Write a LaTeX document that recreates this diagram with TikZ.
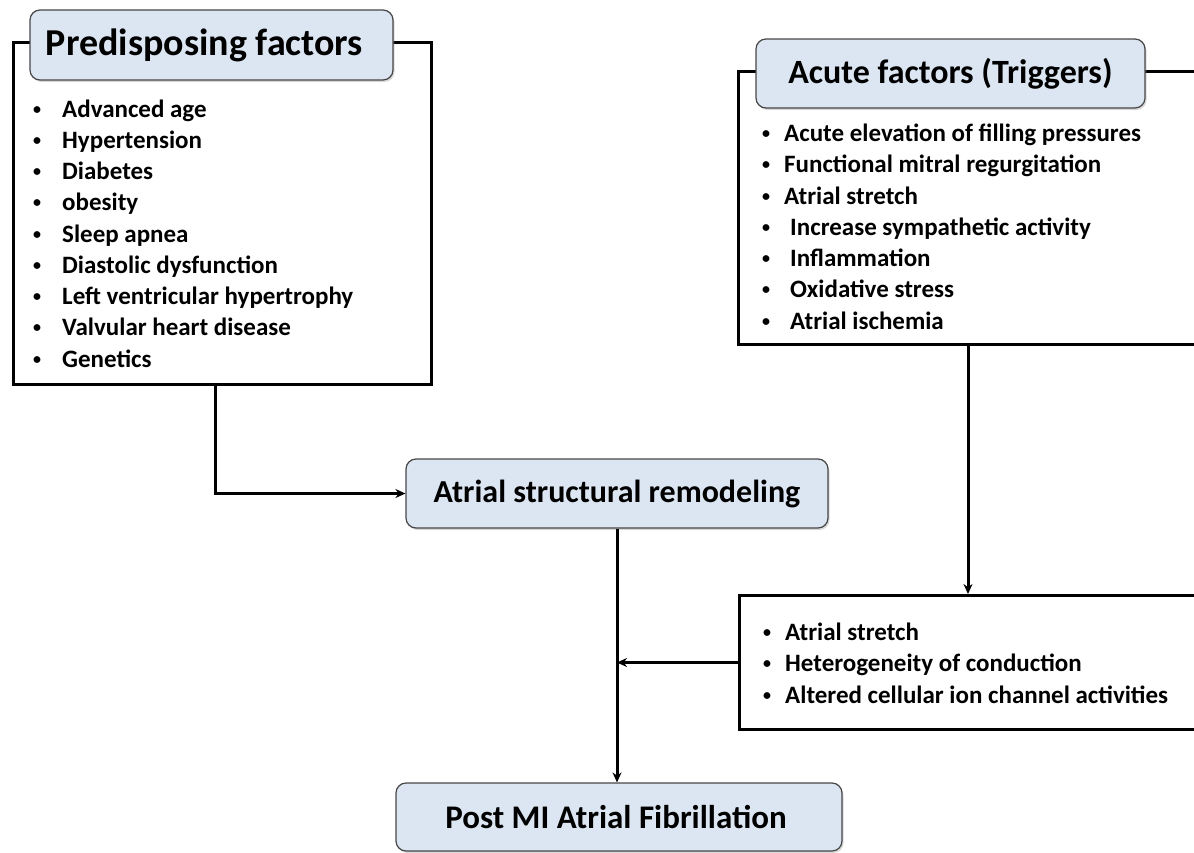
\documentclass[tikz,border=0pt]{standalone}
\usepackage{fontspec}
\setmainfont{Carlito}
\usetikzlibrary{arrows.meta,shadows}
\definecolor{titlefill}{RGB}{220,230,242}
\definecolor{titleline}{RGB}{70,70,70}
\newcommand{\bl}[1][22pt]{\makebox[#1][l]{\raisebox{2.8pt}{\fontsize{16}{16}\selectfont\textbullet}}}

\begin{document}
\begin{tikzpicture}[x=1pt,y=-1pt,
    frame/.style={draw,line width=3pt,inner sep=0pt},
    title/.style={draw=titleline,line width=1.2pt,fill=titlefill,rounded corners=10pt,
      drop shadow={opacity=0.3,shadow xshift=1.5pt,shadow yshift=-2pt},inner sep=0pt},
    list/.style={align=left,anchor=base west,inner sep=0pt,
      font=\fontsize{25}{31.25}\selectfont\bfseries},
    arrow/.style={line width=3pt,-{Stealth[length=10pt,width=9pt]}}]
  \useasboundingbox (0,0) rectangle (1194,852);
  % predisposing factors
  \node[frame,minimum width=418pt,minimum height=342pt,anchor=north west] (predframe) at (12,41) {};
  % list anchored at the baseline of its last line
  \node[list] (predlist) at (33,367) {\bl[29pt]Advanced age\\
    \bl[29pt]Hypertension\\
    \bl[29pt]Diabetes\\
    \bl[29pt]obesity\\
    \bl[29pt]Sleep apnea\\
    \bl[29pt]Diastolic dysfunction\\
    \bl[29pt]Left ventricular hypertrophy\\
    \bl[29pt]Valvular heart disease\\
    \bl[29pt]Genetics};
  \node[title,minimum width=363pt,minimum height=70pt,
    font=\fontsize{38}{40}\selectfont\bfseries] (predtitle) at (211.5,45) {Predisposing factors\hspace*{14pt}};
  % acute factors
  \node[frame,minimum width=480pt,minimum height=273pt,anchor=north west] (acuteframe) at (737,70) {};
  \node[list] (acutelist) at (762,329) {\bl Acute elevation of filling pressures\\
    \bl Functional mitral regurgitation\\
    \bl Atrial stretch\\
    \bl\hspace{6pt}Increase sympathetic activity\\
    \bl\hspace{6pt}Inflammation\\
    \bl\hspace{6pt}Oxidative stress\\
    \bl\hspace{6pt}Atrial ischemia};
  \node[title,minimum width=389pt,minimum height=69pt,
    font=\fontsize{34}{36}\selectfont\bfseries] (acutetitle) at (950.5,73.5) {Acute factors (Triggers)};
  % mechanisms
  \node[frame,minimum width=480pt,minimum height=134pt,anchor=north west] (mechframe) at (738,594) {};
  \node[list] (mechlist) at (763,703) {\bl Atrial stretch\\
    \bl Heterogeneity of conduction\\
    \bl Altered cellular ion channel activities};
  % outcome boxes
  \node[title,minimum width=422pt,minimum height=69pt,
    font=\fontsize{32}{36}\selectfont\bfseries] (remodel) at (617,493.5) {Atrial structural remodeling};
  \node[title,minimum width=446pt,minimum height=68pt,
    font=\fontsize{33}{36}\selectfont\bfseries] (postmi) at (619,817) {Post MI Atrial Fibrillation\hspace*{6pt}};
  % connectors
  \draw[arrow] ([xshift=203pt]predframe.south west) |- (remodel.west);
  \draw[arrow] ([xshift=231pt]acuteframe.south west) -- ([xshift=230pt]mechframe.north west);
  \draw[arrow] (remodel.south) -- (remodel.south |- postmi.north);
  \draw[arrow] (mechframe.west) -- (mechframe.west -| remodel.south);
\end{tikzpicture}
\end{document}
